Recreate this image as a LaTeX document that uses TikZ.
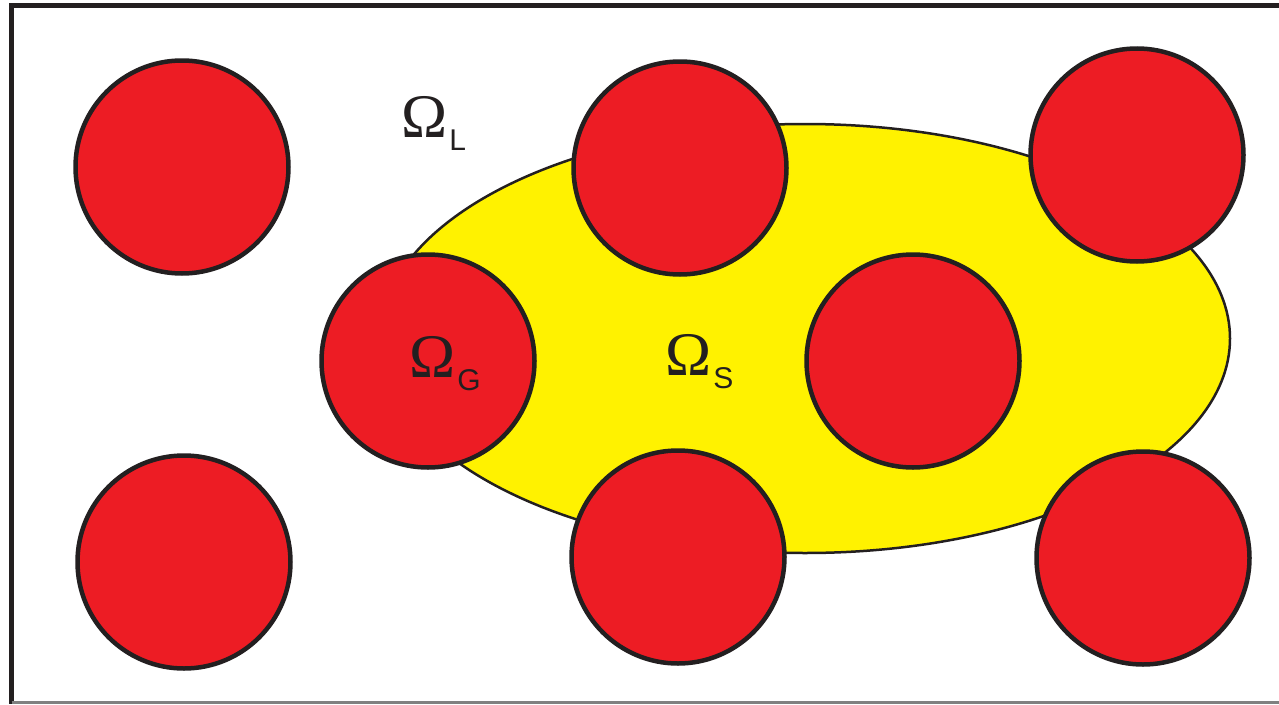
\documentclass[tikz,border=0pt]{standalone}
\usepackage{fontspec}
\setmainfont{Liberation Serif}
\newfontfamily\subsans{Liberation Sans}
\definecolor{dotred}{HTML}{ED1C24}
\definecolor{zoneyellow}{HTML}{FFF200}
\definecolor{inkline}{HTML}{231F20}
\tikzset{
  grain/.style={circle, draw=inkline, line width=4.5pt, fill=dotred, minimum size=213pt, inner sep=0pt},
  zone/.style={ellipse, draw=inkline, line width=2.5pt, fill=zoneyellow, minimum width=850pt, minimum height=429pt, inner sep=0pt},
  lbl/.style={inner sep=0pt, anchor=base west, font=\fontsize{62}{62}\selectfont, text=inkline},
}
\newcommand{\subtxt}[1]{\kern2pt\raisebox{-13pt}{\subsans\fontsize{30}{30}\selectfont #1}}
\usetikzlibrary{shapes.geometric}
\begin{document}
\begin{tikzpicture}[x=1pt,y=-1pt]
\useasboundingbox (0,0) rectangle (1279,704);
% frame
\coordinate (fTL) at (11.5,5.5);
\coordinate (fTR) at (1279,5.5);
\coordinate (fBL) at (11.5,704);
\draw[inkline, line width=5pt] (fTR) -- (fTL) -- (fBL);
\coordinate (bL) at (11.5,702.5);
\coordinate (bR) at (1279,702.5);
\draw[black!50, line width=3pt] (bL) -- (bR);
% solid zone
\node[zone] (S) at (805,338.5) {};
% grains
\node[grain] (g1) at (182,167) {};
\node[grain] (g2) at (184,562) {};
\node[grain] (g3) at (428,361) {};
\node[grain] (g4) at (680,168) {};
\node[grain] (g5) at (678,557) {};
\node[grain] (g6) at (913,361) {};
\node[grain] (g7) at (1137,155) {};
\node[grain] (g8) at (1143,558) {};
% labels
\node[lbl] (oL) at (401,137) {Ω\subtxt{L}};
\node[lbl] (oG) at (409,377) {Ω\subtxt{G}};
\node[lbl] (oS) at (665,375) {Ω\subtxt{S}};
\end{tikzpicture}
\end{document}
